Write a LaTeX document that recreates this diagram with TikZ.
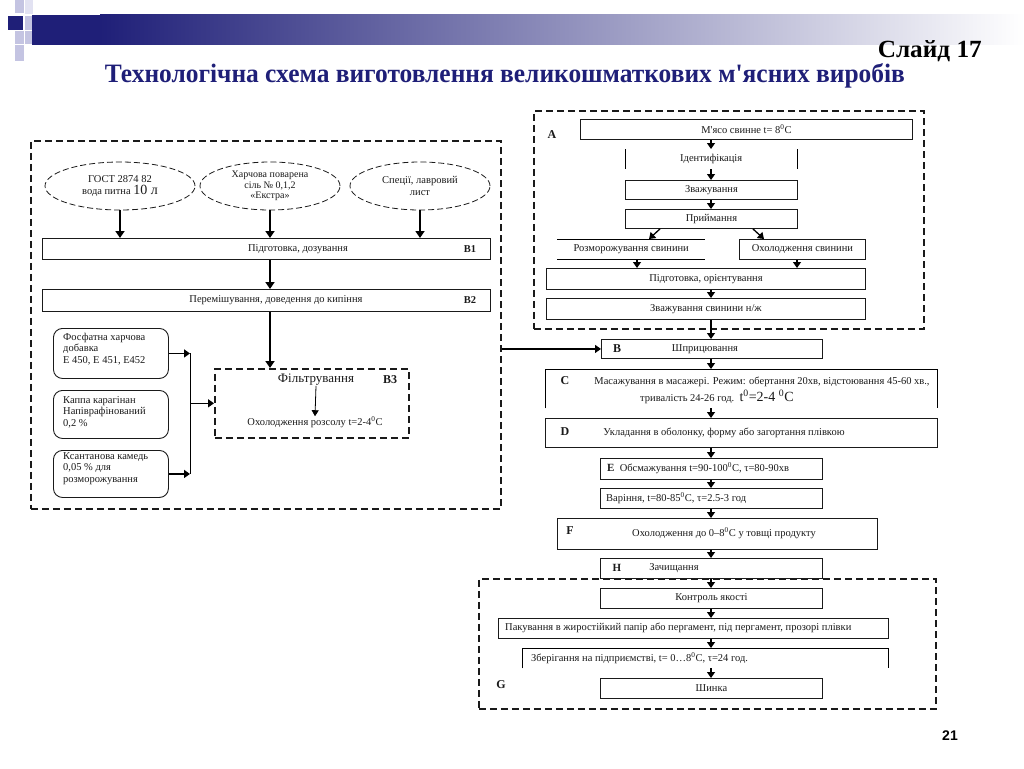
\documentclass[tikz,border=0pt]{standalone}
\usepackage{fontspec}
\setmainfont{Liberation Serif}
\newfontfamily\pser{Liberation Serif}
\newfontfamily\sansf{Liberation Sans}
\usetikzlibrary{shapes.geometric,arrows.meta}
\definecolor{navy}{HTML}{1F1F78}
\definecolor{lav}{HTML}{C4C4E2}
\definecolor{lavl}{HTML}{E2E2F2}
\definecolor{ink}{HTML}{1A1A1A}
\begin{document}
\begin{tikzpicture}[x=1pt,y=-1pt,
  every node/.style={font=\fontsize{10.5}{11.5}\selectfont, inner sep=0pt, text=ink},
  pbox/.style={draw=ink, line width=0.9pt, anchor=north west},
  obox/.style={anchor=north west},
  dbord/.style={draw=ink, line width=1.8pt, dash pattern=on 7pt off 4pt, anchor=north west},
  ell/.style={ellipse, draw=ink, line width=0.8pt, dash pattern=on 6pt off 3pt, align=center},
  rbox/.style={draw=ink, line width=0.9pt, rounded corners=9pt, anchor=north west},
  lbl/.style={font=\fontsize{12}{12}\selectfont\bfseries},
  slbl/.style={font=\fontsize{10.5}{11}\selectfont\bfseries},
  tarr/.style={draw=black, line width=2.6pt, -{Triangle[width=9pt,length=7pt]}},
  marr/.style={draw=black, line width=1.6pt, -{Triangle[width=8pt,length=6pt]}},
  arr/.style={draw=black, line width=1.3pt, -{Triangle[width=8pt,length=6pt]}},
  tarrow/.style={draw=black, line width=0.8pt, -{Triangle[width=7pt,length=6pt]}}
]
\useasboundingbox (0,0) rectangle (1024,768);
\fill[white] (0,0) rectangle (1024,768);
% header
\fill[navy] (32,15) rectangle (100,45);
\shade[left color=navy, right color=white] (100,15) rectangle (1024,45);
\fill[lav] (15,0) rectangle (24,13);
\fill[lavl] (25,0) rectangle (33,14);
\fill[navy] (8,16) rectangle (23,30);
\fill[lav] (25,16) rectangle (32,30);
\fill[lav] (15,31) rectangle (24,44);
\fill[lav] (25,31) rectangle (32,44);
\fill[lav] (15,45) rectangle (24,61);
\node[anchor=east, text=black] (slide) at (982,51) {\resizebox{104pt}{17pt}{\pser\bfseries Слайд 17}};
\node[text=navy] (title) at (505,76) {\resizebox{800pt}{19pt}{\pser\bfseries Технологічна схема виготовлення великошматкових м'ясних виробів}};
\node[text=black] (pnum) at (950,736) {\sansf\bfseries\fontsize{14}{14}\selectfont 21};

% ---------- left block ----------
\node[dbord, minimum width=470pt, minimum height=368pt] (LB) at (30,140) {};
\node[ell, minimum width=150pt, minimum height=48pt] (e1) at (120,186) {ГОСТ 2874 82\\[1pt]вода питна {\fontsize{14}{14}\selectfont 10 л}};
\node[ell, minimum width=140pt, minimum height=48pt, font=\fontsize{10}{10.5}\selectfont] (e2) at (270,186) {Харчова поварена\\сіль № 0,1,2\\«Екстра»};
\node[ell, minimum width=140pt, minimum height=48pt] (e3) at (420,186) {Спеції, лавровий\\лист};
\node[pbox, minimum width=448pt, minimum height=21pt] (b1) at (42,238) {};
\node (b1t) at (298,249) {Підготовка, дозування};
\node[slbl] (b1l) at (470,249) {B1};
\node[pbox, minimum width=448pt, minimum height=22pt] (b2) at (42,289) {};
\node (b2t) at (276,300) {Перемішування, доведення до кипіння};
\node[slbl] (b2l) at (470,300) {B2};
\node[dbord, line width=1.6pt, minimum width=194pt, minimum height=69pt] (b3) at (214,368) {};
\node[font=\fontsize{13}{13}\selectfont] (b3t) at (316,380) {Фільтрування};
\node[font=\fontsize{12}{12}\selectfont\bfseries] (b3l) at (390,380) {B3};
\node (b3c) at (315,422) {Охолодження розсолу t=2-4\textsuperscript{0}С};
\draw[tarrow] (b3t.south) -- (b3c.north);
\draw[tarr] (e1.south) -- (e1.south |- b1.north);
\draw[tarr] (e2.south) -- (e2.south |- b1.north);
\draw[tarr] (e3.south) -- (e3.south |- b1.north);
\draw[tarr] (e2.south |- b1.south) -- (e2.south |- b2.north);
\draw[tarr] (e2.south |- b2.south) -- (e2.south |- b3.north);

\node[rbox, minimum width=115pt, minimum height=50pt] (r1) at (53,328) {};
\node[anchor=north west, align=left] (r1t) at (63,333) {Фосфатна харчова\\добавка\\Е 450, Е 451, Е452};
\node[rbox, minimum width=115pt, minimum height=48pt] (r2) at (53,390) {};
\node[anchor=north west, align=left] (r2t) at (63,396) {Каппа карагінан\\Напіврафінований\\0,2 \%};
\node[rbox, minimum width=115pt, minimum height=47pt] (r3) at (53,450) {};
\node[anchor=north west, align=left] (r3t) at (63,452) {Ксантанова камедь\\0,05 \% для\\розморожування};
\coordinate (brx) at (190,0);
\draw[marr] (r1.east) -- (r1.east -| brx);
\draw[marr] (r3.east) -- (r3.east -| brx);
\draw[line width=0.9pt] (r1.east -| brx) -- (r3.east -| brx);
\draw[marr] (brx |- b3.west) -- (b3.west);

% ---------- right column ----------
\coordinate (cx) at (711,0);
\node[dbord, minimum width=390pt, minimum height=218pt] (A) at (533,110) {};
\node[lbl] (Al) at (552,135) {A};
\node[pbox, minimum width=332pt, minimum height=20pt] (meat) at (580,119) {\pser М'ясо свинне t= 8\textsuperscript{0}С};
\node[obox, minimum width=172pt, minimum height=20pt] (ident) at (625,149) {Ідентифікація};
\draw[line width=0.9pt] (ident.north west) -- (ident.south west) (ident.north east) -- (ident.south east);
\node[pbox, minimum width=172pt, minimum height=19pt] (zv1) at (625,180) {Зважування};
\node[pbox, minimum width=172pt, minimum height=19pt] (pr) at (625,209) {Приймання};
\node[obox, minimum width=148pt, minimum height=20pt] (roz) at (557,239) {Розморожування свинини};
\draw[line width=0.9pt] (roz.north west) -- (roz.north east) (roz.south west) -- (roz.south east);
\node[pbox, minimum width=126pt, minimum height=20pt] (oh) at (739,239) {Охолодження свинини};
\node[pbox, minimum width=319pt, minimum height=21pt] (pid) at (546,268) {Підготовка, орієнтування};
\node[pbox, minimum width=319pt, minimum height=21pt] (zv2) at (546,298) {Зважування свинини н/ж};
\draw[arr] (cx |- meat.south) -- (cx |- ident.north);
\draw[arr] (cx |- ident.south) -- (cx |- zv1.north);
\draw[arr] (cx |- zv1.south) -- (cx |- pr.north);
\draw[arr] ([xshift=35pt]pr.south west) -- ([xshift=92pt]roz.north west);
\draw[arr] ([xshift=-45pt]pr.south east) -- ([xshift=25pt]oh.north west);
\draw[arr] ([xshift=80pt]roz.south west) -- ([xshift=80pt]roz.south west |- pid.north);
\draw[arr] ([xshift=58pt]oh.south west) -- ([xshift=58pt]oh.south west |- pid.north);
\draw[arr] (cx |- pid.south) -- (cx |- zv2.north);

\node[pbox, minimum width=221pt, minimum height=19pt] (B) at (601,339) {};
\node[lbl] (Bl) at (617,349) {B};
\node (Bt) at (705,349) {Шприцювання};
\draw[arr] (cx |- zv2.south) -- (cx |- B.north);
\draw[arr] (LB.east |- B.west) -- (B.west);

\node[obox, minimum width=392pt, minimum height=39pt] (C) at (545,369) {};
\draw[line width=0.9pt] (C.south west) -- (C.north west) -- (C.north east) -- (C.south east);
\node[lbl] (Cl) at (565,381) {C};
\node (Ct1) at (762,382) {Масажування в масажері. Режим: обертання 20хв, відстоювання 45-60 хв.,};
\node[anchor=west] (Ct2) at (640,397) {тривалість 24-26 год.\enspace {\fontsize{14}{14}\selectfont t\textsuperscript{0}=2-4 \textsuperscript{0}C}};
\draw[arr] (cx |- B.south) -- (cx |- C.north);

\node[pbox, minimum width=392pt, minimum height=29pt] (D) at (545,418) {};
\node[lbl] (Dl) at (565,432) {D};
\node (Dt) at (724,433) {Укладання в оболонку, форму або загортання плівкою};
\draw[arr] (cx |- C.south) -- (cx |- D.north);

\node[pbox, minimum width=222pt, minimum height=21pt] (E) at (600,458) {};
\node[anchor=west] (Et) at (607,468) {{\fontsize{11}{11}\selectfont\bfseries E}\enspace Обсмажування t=90-100\textsuperscript{0}С, τ=80-90хв};
\draw[arr] (cx |- D.south) -- (cx |- E.north);

\node[pbox, minimum width=222pt, minimum height=20pt] (V) at (600,488) {};
\node[anchor=west] (Vt) at (606,498) {Варіння, t=80-85\textsuperscript{0}С, τ=2.5-3 год};
\draw[arr] (cx |- E.south) -- (cx |- V.north);

\node[pbox, minimum width=320pt, minimum height=31pt] (F) at (557,518) {};
\node[lbl] (Fl) at (570,531) {F};
\node (Ft) at (724,533) {Охолодження до 0–8\textsuperscript{0}С у товщі продукту};
\draw[arr] (cx |- V.south) -- (cx |- F.north);

\node[pbox, minimum width=222pt, minimum height=20pt] (H) at (600,558) {};
\node[font=\fontsize{11}{11}\selectfont\bfseries] (Hl) at (617,568) {H};
\node (Ht) at (674,568) {Зачищання};
\draw[arr] (cx |- F.south) -- (cx |- H.north);

\node[dbord, minimum width=457pt, minimum height=130pt] (G) at (478,578) {};
\node[lbl] (Gl) at (501,685) {G};
\node[pbox, minimum width=222pt, minimum height=20pt] (K) at (600,588) {Контроль якості};
\node[pbox, minimum width=390pt, minimum height=20pt] (P) at (498,618) {};
\node[anchor=west] (Pt) at (505,628) {Пакування в жиростійкий папір або пергамент, під пергамент, прозорі плівки};
\node[obox, minimum width=366pt, minimum height=20pt] (Z) at (522,648) {};
\draw[line width=0.9pt] (Z.south west) -- (Z.north west) -- (Z.north east) -- (Z.south east);
\node[anchor=west] (Zt) at (531,658) {Зберігання на підприємстві, t= 0…8\textsuperscript{0}С, τ=24 год.};
\node[pbox, minimum width=222pt, minimum height=20pt] (Sh) at (600,678) {Шинка};
\draw[arr] (cx |- H.south) -- (cx |- K.north);
\draw[arr] (cx |- K.south) -- (cx |- P.north);
\draw[arr] (cx |- P.south) -- (cx |- Z.north);
\draw[arr] (cx |- Z.south) -- (cx |- Sh.north);
\end{tikzpicture}
\end{document}
